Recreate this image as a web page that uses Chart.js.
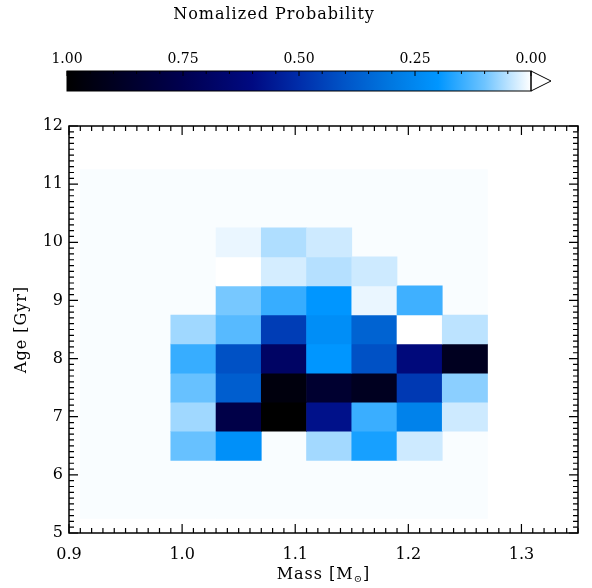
<!DOCTYPE html>
<html>
<head>
<meta charset="utf-8">
<script src="https://cdn.jsdelivr.net/npm/chart.js@4.4.1/dist/chart.umd.min.js"></script>
<style>
html, body { margin: 0; padding: 0; background: #fff; }
#wrap { position: relative; width: 592px; height: 588px; }
#mainChart, #barChart { position: absolute; left: 0; top: 0; }
</style>
</head>
<body>
<div id="wrap">
  <canvas id="mainChart" width="592" height="588"></canvas>
  <canvas id="barChart" width="592" height="100"></canvas>
</div>
<script>
// mass bin centres [Msun], bins are 0.04 wide
const GRID_MASS = [0.93, 0.97, 1.01, 1.05, 1.09, 1.13, 1.17, 1.21, 1.25]
const CELL_MASS = [1.01, 1.05, 1.09, 1.13, 1.17, 1.21, 1.25]
// age bin centres [Gyr], bins are 0.5 wide
const AGES = [10.0, 9.5, 9.0, 8.5, 8.0, 7.5, 7.0, 6.5]
const GRID_AGE = [5.25, 11.25]

// normalized probability per age row (null = empty bin)
const PROB_10_0 = [null, 0.015, 0.057, 0.036, null, null, null]
const PROB_9_5 = [null, 0.0, 0.031, 0.053, 0.036, null, null]
const PROB_9_0 = [null, 0.094, 0.15, 0.2, 0.015, 0.143, null]
const PROB_8_5 = [0.067, 0.121, 0.46, 0.227, 0.36, 0.0, 0.048]
const PROB_8_0 = [0.15, 0.41, 0.69, 0.2, 0.41, 0.62, 0.9]
const PROB_7_5 = [0.106, 0.374, 0.96, 0.85, 0.9, 0.47, 0.081]
const PROB_7_0 = [0.067, 0.775, 1.0, 0.58, 0.147, 0.267, 0.036]
const PROB_6_5 = [0.106, 0.22, null, 0.065, 0.179, 0.036, null]
const ROWS = [PROB_10_0, PROB_9_5, PROB_9_0, PROB_8_5, PROB_8_0, PROB_7_5, PROB_7_0, PROB_6_5]

const X_TICKS = [0.9, 1.0, 1.1, 1.2, 1.3]
const Y_TICKS = [5, 6, 7, 8, 9, 10, 11, 12]
const CBAR_TICKS = [1.0, 0.75, 0.5, 0.25, 0.0]

// colour table: white -> light blue -> blue -> navy -> black
const CMAP_POS = [0, 0.05, 0.1, 0.2, 0.3, 0.4, 0.5, 0.6, 0.75, 1]
const CMAP_RGB = [[255,255,255],[185,226,255],[110,196,255],[0,150,255],[0,120,225],
                  [0,85,200],[0,45,170],[0,10,130],[0,0,80],[0,0,0]]
const BG_COLOR = '#f9fdff'
const SERIF = "'DejaVu Serif', serif"

function rgb(c){
    return 'rgb(' + c.map(Math.round).join(',') + ')'
}

function colorFor(p){
    for (let i = 1; i < CMAP_POS.length; i++){
        if (p <= CMAP_POS[i]){
            let t = (p - CMAP_POS[i-1]) / (CMAP_POS[i] - CMAP_POS[i-1])
            let a = CMAP_RGB[i-1], b = CMAP_RGB[i]
            return rgb([0,1,2].map(k => a[k] + (b[k] - a[k]) * t))
        }
    }
    return rgb(CMAP_RGB[CMAP_RGB.length - 1])
}

// one floating-bar dataset per age row, plus the pale grid underneath
function getDataSets(){
    let sets = [{
        label: 'grid',
        data: GRID_MASS.map(m => ({x: m, y: GRID_AGE})),
        backgroundColor: BG_COLOR,
        order: 1
    }]
    AGES.forEach((age, r) => {
        let pts = [], cols = []
        ROWS[r].forEach((p, c) => {
            if (p === null) return
            pts.push({x: CELL_MASS[c], y: [age - 0.25, age + 0.25]})
            cols.push(colorFor(p))
        })
        sets.push({label: 'Age ' + age, data: pts, backgroundColor: cols, order: 0})
    })
    return sets
}

function drawParts(ctx, parts, x, y){
    // parts: [text, size, dy]; centred on x
    let w = 0
    parts.forEach(p => { ctx.font = p[1] + 'px ' + SERIF; w += ctx.measureText(p[0]).width })
    let cx = x - w / 2
    parts.forEach(p => {
        ctx.font = p[1] + 'px ' + SERIF
        ctx.fillText(p[0], cx, y + p[2])
        cx += ctx.measureText(p[0]).width
    })
}

// frame, in-pointing ticks on all sides, axis titles
const framePlugin = {
    id: 'frame',
    afterDraw(chart){
        const ctx = chart.ctx
        const a = chart.chartArea
        const xs = chart.scales.x, ys = chart.scales.y
        ctx.save()
        ctx.strokeStyle = '#000'
        ctx.lineWidth = 1.5
        ctx.strokeRect(a.left, a.top, a.right - a.left, a.bottom - a.top)
        ctx.lineWidth = 1.2
        ctx.beginPath()
        for (let i = 90; i <= 135; i++){
            let px = xs.getPixelForValue(i / 100)
            let len = i % 10 === 0 ? 9 : 5
            ctx.moveTo(px, a.bottom); ctx.lineTo(px, a.bottom - len)
            ctx.moveTo(px, a.top); ctx.lineTo(px, a.top + len)
        }
        for (let i = 50; i <= 120; i++){
            let py = ys.getPixelForValue(i / 10)
            let len = i % 10 === 0 ? 9 : 5
            ctx.moveTo(a.left, py); ctx.lineTo(a.left + len, py)
            ctx.moveTo(a.right, py); ctx.lineTo(a.right - len, py)
        }
        ctx.stroke()

        ctx.fillStyle = '#000'
        ctx.textAlign = 'left'
        ctx.textBaseline = 'middle'
        ctx.letterSpacing = '1px'
        drawParts(ctx, [['Mass [M', 16, 0], ['\u2299', 10, 4], [']', 16, 0]], (a.left + a.right) / 2, 575)
        ctx.translate(22, (a.top + a.bottom) / 2)
        ctx.rotate(-Math.PI / 2)
        drawParts(ctx, [['Age [Gyr]', 16, 0]], 0, 0)
        ctx.restore()
    }
}

const mainChart = new Chart(document.getElementById('mainChart'), {
    type: 'bar',
    data: { datasets: getDataSets() },
    options: {
        responsive: false,
        animation: false,
        layout: { padding: { left: 0, right: 14, top: 126, bottom: 0 } },
        datasets: { bar: { barPercentage: 1, categoryPercentage: 1, grouped: false, borderWidth: 0 } },
        plugins: { legend: { display: false }, tooltip: { enabled: false } },
        scales: {
            x: {
                type: 'linear', min: 0.9, max: 1.35, offset: false,
                grid: { display: false, drawTicks: false },
                border: { display: false },
                afterBuildTicks: s => { s.ticks = X_TICKS.map(v => ({value: v})) },
                afterFit: s => { s.height = 55 },
                ticks: { font: { family: SERIF, size: 16 }, color: '#000', padding: 12,
                         maxRotation: 0, autoSkip: false, callback: v => v.toFixed(1) }
            },
            y: {
                type: 'linear', min: 5, max: 12,
                grid: { display: false, drawTicks: false },
                border: { display: false },
                afterBuildTicks: s => { s.ticks = Y_TICKS.map(v => ({value: v})) },
                afterFit: s => { s.width = 69 },
                ticks: { font: { family: SERIF, size: 16 }, color: '#000', padding: 6,
                         autoSkip: false, callback: v => String(v) }
            }
        }
    },
    plugins: [framePlugin]
})

// colour bar ----------------------------------------------------------
function gradientFill(c){
    const chart = c.chart
    const xs = chart.scales.x
    if (!xs || !chart.chartArea) return '#000'
    const g = chart.ctx.createLinearGradient(xs.getPixelForValue(0), 0, xs.getPixelForValue(1), 0)
    CMAP_POS.forEach((p, i) => g.addColorStop(p, rgb(CMAP_RGB[i])))
    return g
}

const cbarPlugin = {
    id: 'cbar',
    afterDatasetsDraw(chart){
        const ctx = chart.ctx
        const a = chart.chartArea
        const xs = chart.scales.x
        const end = xs.getPixelForValue(0)
        const mid = (a.top + a.bottom) / 2
        ctx.save()
        ctx.strokeStyle = '#000'
        ctx.lineWidth = 1
        ctx.fillStyle = '#fff'
        ctx.beginPath()
        ctx.moveTo(end, a.top); ctx.lineTo(end + 20, mid); ctx.lineTo(end, a.bottom)
        ctx.closePath()
        ctx.fill(); ctx.stroke()
        ctx.strokeRect(a.left, a.top, a.right - a.left, a.bottom - a.top)
        ctx.beginPath()
        for (let i = 0; i <= 20; i++){
            let px = xs.getPixelForValue(i / 20)
            let len = i % 5 === 0 ? 5 : 3
            ctx.moveTo(px, a.top); ctx.lineTo(px, a.top + len)
        }
        ctx.stroke()
        ctx.fillStyle = '#000'
        ctx.textAlign = 'left'
        ctx.textBaseline = 'middle'
        ctx.letterSpacing = '1px'
        drawParts(ctx, [['Nomalized Probability', 16, 0]], 274, 15)
        ctx.restore()
    }
}

const barChart = new Chart(document.getElementById('barChart'), {
    type: 'bar',
    data: {
        labels: [''],
        datasets: [{ data: [[0, 1]], backgroundColor: gradientFill, borderWidth: 0,
                     barPercentage: 1, categoryPercentage: 1 }]
    },
    options: {
        indexAxis: 'y',
        responsive: false,
        animation: false,
        layout: { padding: { left: 67, right: 61, top: 0, bottom: 9 } },
        plugins: { legend: { display: false }, tooltip: { enabled: false } },
        scales: {
            x: {
                type: 'linear', min: 0, max: 1, reverse: true, position: 'top', offset: false,
                grid: { display: false, drawTicks: false },
                border: { display: false },
                afterBuildTicks: s => { s.ticks = CBAR_TICKS.map(v => ({value: v})) },
                afterFit: s => { s.height = 71 },
                ticks: { font: { family: SERIF, size: 14 }, color: '#000', padding: 3,
                         maxRotation: 0, autoSkip: false, callback: v => v.toFixed(2) }
            },
            y: { display: false }
        }
    },
    plugins: [cbarPlugin]
})
</script>
</body>
</html>
